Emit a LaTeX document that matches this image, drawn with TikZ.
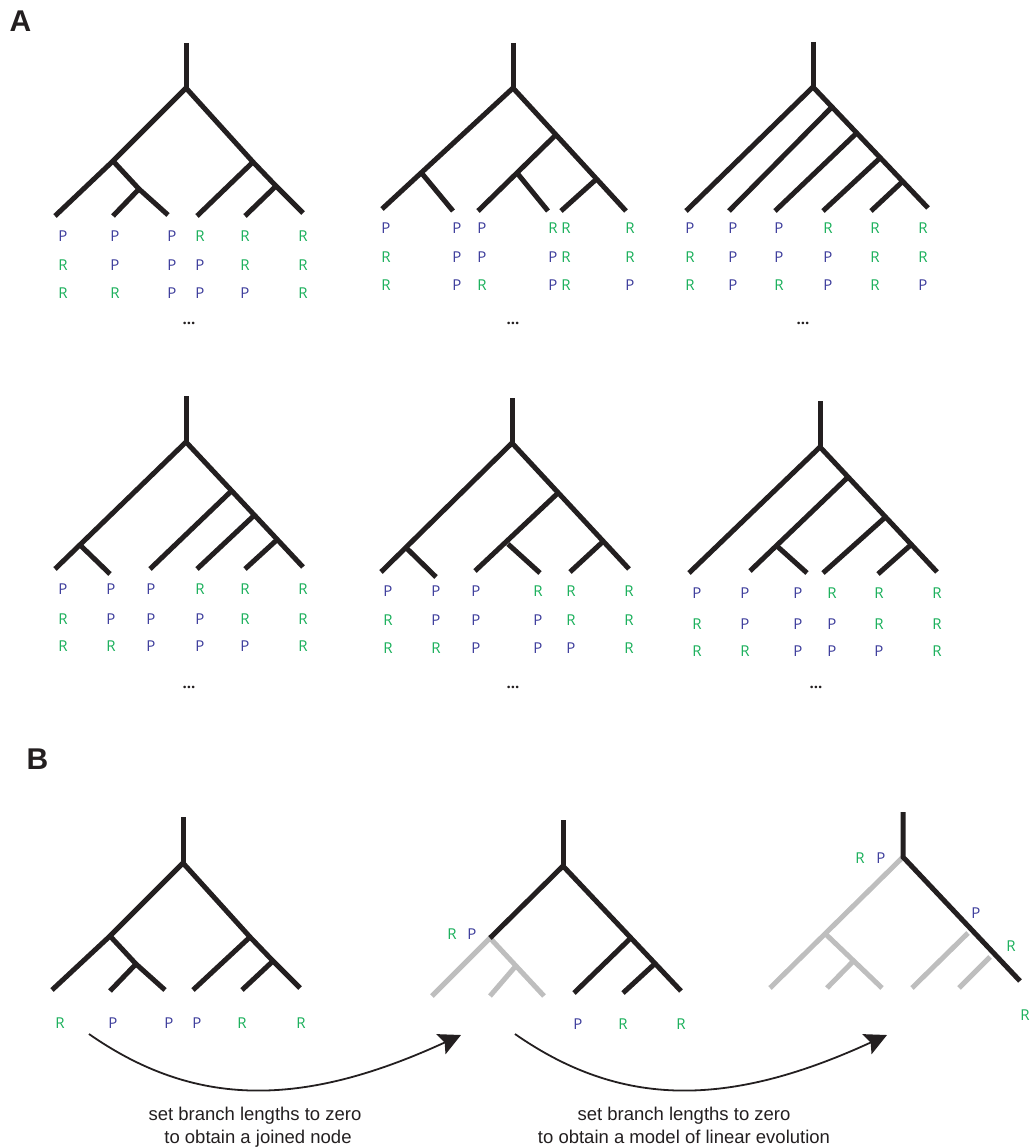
\documentclass[tikz,border=0pt]{standalone}
\usepackage{fontspec}
\setmainfont{Open Sans}
\newfontfamily\capfont{Liberation Sans}
\usetikzlibrary{arrows.meta,calc}
\definecolor{ink}{RGB}{35,31,32}
\definecolor{pblue}{RGB}{60,60,155}
\definecolor{rgreen}{RGB}{25,175,90}
\definecolor{lgray}{RGB}{190,190,190}
\newcommand\labcol[8]{%
  \node[lab,lab#6] (#1a) at (#2,#3) {#6};
  \node[lab,lab#7] (#1b) at (#2,#4) {#7};
  \node[lab,lab#8] (#1c) at (#2,#5) {#8};}
\tikzset{
  br/.style={line width=5pt, draw=ink, line join=miter},
  gbr/.style={line width=5pt, draw=lgray, line join=miter},
  lab/.style={inner sep=0pt, font=\fontsize{15}{17}\selectfont},
  labP/.style={text=pblue},
  labR/.style={text=rgreen},
  dots/.style={inner sep=0pt, text=ink, font=\fontsize{15}{16}\selectfont\bfseries},
  panel/.style={inner sep=0pt, text=ink, font=\capfont\fontsize{30}{32}\selectfont\bfseries},
  caption/.style={inner sep=0pt, anchor=base, text=ink, font=\capfont\fontsize{18.5}{22}\selectfont},
  arr/.style={line width=1.8pt, draw=ink, -{Stealth[length=22pt, width=22pt, inset=4pt]}}
}
\begin{document}
\begin{tikzpicture}[x=1pt,y=-1pt]
\useasboundingbox (0,0) rectangle (1030,1148);
% panel labels
\node[panel] (pA) at (20.5,21.5) {A};
\node[panel] (pB) at (37.5,759.5) {B};

% ---------- Tree 1 ----------
\coordinate (t1top) at (186,43);
\coordinate (t1r) at (186,88);
\coordinate (t1a) at (113,161);
\coordinate (t1l1) at (55,216);
\coordinate (t1b) at (139,189);
\coordinate (t1l2) at (113,216);
\coordinate (t1l3) at (168,215);
\coordinate (t1c) at (253,162);
\coordinate (t1l4) at (197,216);
\coordinate (t1d) at (276,186);
\coordinate (t1l5) at (245,216);
\coordinate (t1l6) at (303,213);
\draw[br] (t1top) -- (t1r);
\draw[br] (t1l1) -- (t1a) -- (t1r) -- (t1c) -- (t1d) -- (t1l6);
\draw[br] (t1a) -- (t1b) -- (t1l3);
\draw[br] (t1b) -- (t1l2);
\draw[br] (t1c) -- (t1l4);
\draw[br] (t1d) -- (t1l5);
\labcol{t1c1}{63}{236}{265}{293}{P}{R}{R}
\labcol{t1c2}{115}{236}{265}{293}{P}{P}{R}
\labcol{t1c3}{172}{236}{265}{293}{P}{P}{P}
\labcol{t1c4}{200}{236}{265}{293}{R}{P}{P}
\labcol{t1c5}{245}{236}{265}{293}{R}{R}{P}
\labcol{t1c6}{303}{236}{265}{293}{R}{R}{R}
\node[dots] (t1dots) at (189,323) {...};

% ---------- Tree 2 ----------
\coordinate (t2top) at (513,43);
\coordinate (t2r) at (513,88);
\coordinate (t2l1) at (382,209);
\coordinate (t2a) at ($(t2r)!0.70!(t2l1)$);
\coordinate (t2l2) at (453,211);
\coordinate (t2l6) at (626,211);
\coordinate (t2c) at ($(t2r)!0.38!(t2l6)$);
\coordinate (t2l3) at (478,211);
\coordinate (t2e) at ($(t2c)!0.5!(t2l3)$);
\coordinate (t2l4) at (548,211);
\coordinate (t2f) at ($(t2c)!0.58!(t2l6)$);
\coordinate (t2l5) at (561,211);
\draw[br] (t2top) -- (t2r);
\draw[br] (t2l1) -- (t2a) -- (t2r) -- (t2c) -- (t2f) -- (t2l6);
\draw[br] (t2a) -- (t2l2);
\draw[br] (t2c) -- (t2l3);
\draw[br] (t2e) -- (t2l4);
\draw[br] (t2f) -- (t2l5);
\labcol{t2c1}{386}{228}{257}{285}{P}{R}{R}
\labcol{t2c2}{457}{228}{257}{285}{P}{P}{P}
\labcol{t2c3}{482}{228}{257}{285}{P}{P}{R}
\labcol{t2c4}{553}{228}{257}{285}{R}{P}{P}
\labcol{t2c5}{566}{228}{257}{285}{R}{R}{R}
\labcol{t2c6}{630}{228}{257}{285}{R}{R}{P}
\node[dots] (t2dots) at (513,323) {...};

% ---------- Tree 3 ----------
\coordinate (t3top) at (813,42);
\coordinate (t3r) at (813,87);
\coordinate (t3l1) at (686,211);
\coordinate (t3l6) at (928,208);
\coordinate (t3n2) at ($(t3r)!0.165!(t3l6)$);
\coordinate (t3n3) at ($(t3r)!0.38!(t3l6)$);
\coordinate (t3n4) at ($(t3r)!0.585!(t3l6)$);
\coordinate (t3n5) at ($(t3r)!0.78!(t3l6)$);
\coordinate (t3l2) at (729,211);
\coordinate (t3l3) at (775,211);
\coordinate (t3l4) at (823,211);
\coordinate (t3l5) at (871,211);
\draw[br] (t3top) -- (t3r);
\draw[br] (t3l1) -- (t3r) -- (t3l6);
\draw[br] (t3n2) -- (t3l2);
\draw[br] (t3n3) -- (t3l3);
\draw[br] (t3n4) -- (t3l4);
\draw[br] (t3n5) -- (t3l5);
\labcol{t3c1}{690}{228}{257}{285}{P}{R}{R}
\labcol{t3c2}{733}{228}{257}{285}{P}{P}{P}
\labcol{t3c3}{779}{228}{257}{285}{P}{P}{R}
\labcol{t3c4}{828}{228}{257}{285}{R}{P}{P}
\labcol{t3c5}{875}{228}{257}{285}{R}{R}{R}
\labcol{t3c6}{923}{228}{257}{285}{R}{R}{P}
\node[dots] (t3dots) at (803,323) {...};

% ---------- Tree 4 ----------
\coordinate (t4top) at (186,396);
\coordinate (t4r) at (186,442);
\coordinate (t4l1) at (55,569);
\coordinate (t4a) at ($(t4r)!0.81!(t4l1)$);
\coordinate (t4l2) at (110,574);
\coordinate (t4l6) at (303,567);
\coordinate (t4n2) at ($(t4r)!0.39!(t4l6)$);
\coordinate (t4n3) at ($(t4r)!0.585!(t4l6)$);
\coordinate (t4n4) at ($(t4r)!0.78!(t4l6)$);
\coordinate (t4l3) at (150,569);
\coordinate (t4l4) at (197,569);
\coordinate (t4l5) at (245,569);
\draw[br] (t4top) -- (t4r);
\draw[br] (t4l1) -- (t4a) -- (t4r) -- (t4l6);
\draw[br] (t4a) -- (t4l2);
\draw[br] (t4n2) -- (t4l3);
\draw[br] (t4n3) -- (t4l4);
\draw[br] (t4n4) -- (t4l5);
\labcol{t4c1}{63}{589}{619}{646}{P}{R}{R}
\labcol{t4c2}{111}{589}{619}{646}{P}{P}{R}
\labcol{t4c3}{151}{589}{619}{646}{P}{P}{P}
\labcol{t4c4}{200}{589}{619}{646}{R}{P}{P}
\labcol{t4c5}{245}{589}{619}{646}{R}{R}{P}
\labcol{t4c6}{303}{589}{619}{646}{R}{R}{R}
\node[dots] (t4dots) at (189,687) {...};

% ---------- Tree 5 ----------
\coordinate (t5top) at (512,398);
\coordinate (t5r) at (512,443);
\coordinate (t5l1) at (381,572);
\coordinate (t5a) at ($(t5r)!0.81!(t5l1)$);
\coordinate (t5l2) at (436,577);
\coordinate (t5l6) at (629,569);
\coordinate (t5c) at ($(t5r)!0.395!(t5l6)$);
\coordinate (t5l3) at (475,571);
\coordinate (t5s) at (508,544);
\coordinate (t5l4) at (540,573);
\coordinate (t5f) at ($(t5r)!0.78!(t5l6)$);
\coordinate (t5l5) at (570,572);
\draw[br] (t5top) -- (t5r);
\draw[br] (t5l1) -- (t5a) -- (t5r) -- (t5c) -- (t5f) -- (t5l6);
\draw[br] (t5a) -- (t5l2);
\draw[br] (t5c) -- (t5l3);
\draw[br] (t5s) -- (t5l4);
\draw[br] (t5f) -- (t5l5);
\labcol{t5c1}{388}{591}{620}{648}{P}{R}{R}
\labcol{t5c2}{436}{591}{620}{648}{P}{P}{R}
\labcol{t5c3}{476}{591}{620}{648}{P}{P}{P}
\labcol{t5c4}{538}{591}{620}{648}{R}{P}{P}
\labcol{t5c5}{571}{591}{620}{648}{R}{R}{P}
\labcol{t5c6}{629}{591}{620}{648}{R}{R}{R}
\node[dots] (t5dots) at (513,687) {...};

% ---------- Tree 6 ----------
\coordinate (t6top) at (820,401);
\coordinate (t6r) at (820,447);
\coordinate (t6l1) at (689,573);
\coordinate (t6l6) at (937,572);
\coordinate (t6n2) at ($(t6r)!0.24!(t6l6)$);
\coordinate (t6l2) at (750,571);
\coordinate (t6m) at ($(t6n2)!0.73!(t6l2)$);
\coordinate (t6l3) at (807,573);
\coordinate (t6n3) at ($(t6r)!0.56!(t6l6)$);
\coordinate (t6l4) at (823,573);
\coordinate (t6n4) at ($(t6r)!0.78!(t6l6)$);
\coordinate (t6l5) at (878,574);
\draw[br] (t6top) -- (t6r);
\draw[br] (t6l1) -- (t6r) -- (t6l6);
\draw[br] (t6n2) -- (t6l2);
\draw[br] (t6m) -- (t6l3);
\draw[br] (t6n3) -- (t6l4);
\draw[br] (t6n4) -- (t6l5);
\labcol{t6c1}{697}{593}{624}{651}{P}{R}{R}
\labcol{t6c2}{745}{593}{624}{651}{P}{P}{R}
\labcol{t6c3}{798}{593}{624}{651}{P}{P}{P}
\labcol{t6c4}{832}{593}{624}{651}{R}{P}{P}
\labcol{t6c5}{879}{593}{624}{651}{R}{R}{P}
\labcol{t6c6}{937}{593}{624}{651}{R}{R}{R}
\node[dots] (t6dots) at (816,687) {...};

% ---------- Panel B, tree 1 ----------
\coordinate (b1top) at (183,817);
\coordinate (b1r) at (183,863);
\coordinate (b1a) at (110,936);
\coordinate (b1l1) at (52,990);
\coordinate (b1b) at (136,964);
\coordinate (b1l2) at (110,991);
\coordinate (b1l3) at (165,990);
\coordinate (b1c) at (250,937);
\coordinate (b1l4) at (193,990);
\coordinate (b1d) at (273,961);
\coordinate (b1l5) at (242,990);
\coordinate (b1l6) at (300,988);
\draw[br] (b1top) -- (b1r);
\draw[br] (b1l1) -- (b1a) -- (b1r) -- (b1c) -- (b1d) -- (b1l6);
\draw[br] (b1a) -- (b1b) -- (b1l3);
\draw[br] (b1b) -- (b1l2);
\draw[br] (b1c) -- (b1l4);
\draw[br] (b1d) -- (b1l5);
\node[lab,labR] (b1x1) at (60,1023) {R};
\node[lab,labP] (b1x2) at (113,1023) {P};
\node[lab,labP] (b1x3) at (169,1023) {P};
\node[lab,labP] (b1x4) at (197,1023) {P};
\node[lab,labR] (b1x5) at (242,1023) {R};
\node[lab,labR] (b1x6) at (301,1023) {R};

% ---------- Panel B, tree 2 ----------
\coordinate (b2top) at (563,820);
\coordinate (b2r) at (563,866);
\coordinate (b2j) at (490,938);
\coordinate (b2l1) at (432,996);
\coordinate (b2l3) at (544,996);
\coordinate (b2g) at ($(b2j)!0.48!(b2l3)$);
\coordinate (b2l2) at (490,996);
\coordinate (b2l6) at (681,991);
\coordinate (b2c) at ($(b2r)!0.575!(b2l6)$);
\coordinate (b2d) at ($(b2r)!0.78!(b2l6)$);
\coordinate (b2l4) at (574,993);
\coordinate (b2l5) at (623,993);
\draw[gbr] (b2l1) -- (b2j) -- (b2l3);
\draw[gbr] (b2g) -- (b2l2);
\draw[br] (b2top) -- (b2r);
\draw[br] (b2j) -- (b2r) -- (b2c) -- (b2d) -- (b2l6);
\draw[br] (b2c) -- (b2l4);
\draw[br] (b2d) -- (b2l5);
\node[lab,labR] (b2y1) at (452,934) {R};
\node[lab,labP] (b2y2) at (472,934) {P};
\node[lab,labP] (b2x4) at (578,1024) {P};
\node[lab,labR] (b2x5) at (623,1024) {R};
\node[lab,labR] (b2x6) at (681,1024) {R};

% ---------- Panel B, tree 3 ----------
\coordinate (b3top) at (903,812);
\coordinate (b3r) at (903,857);
\coordinate (b3l6) at (1020,981);
\coordinate (b3l1) at (770,988);
\coordinate (b3gn) at ($(b3r)!0.585!(b3l1)$);
\coordinate (b3l3) at (882,988);
\coordinate (b3gm) at ($(b3gn)!0.5!(b3l3)$);
\coordinate (b3l2) at (827,988);
\coordinate (b3s4) at (968,933);
\coordinate (b3l4) at (912,988);
\coordinate (b3s5) at (990,957);
\coordinate (b3l5) at (959,988);
\draw[gbr] (b3r) -- (b3l1);
\draw[gbr] (b3gn) -- (b3l3);
\draw[gbr] (b3gm) -- (b3l2);
\draw[gbr] (b3s4) -- (b3l4);
\draw[gbr] (b3s5) -- (b3l5);
\draw[br] (b3top) -- (b3r) -- (b3l6);
\node[lab,labR] (b3y1) at (860,858) {R};
\node[lab,labP] (b3y2) at (881,858) {P};
\node[lab,labP] (b3y3) at (976,913) {P};
\node[lab,labR] (b3y4) at (1011,946) {R};
\node[lab,labR] (b3y5) at (1025,1015) {R};

% ---------- Arrows ----------
\coordinate (a1s) at (89,1034);
\coordinate (a1e) at (461,1035);
\coordinate (a2s) at (515,1034);
\coordinate (a2e) at (887,1035);
\draw[arr] (a1s) .. controls (195,1108) and (302,1108) .. (a1e);
\draw[arr] (a2s) .. controls (621,1108) and (728,1108) .. (a2e);
\node[caption] (cap1a) at (255,1120) {set branch lengths to zero};
\node[caption] (cap1b) at (258,1143) {to obtain a joined node};
\node[caption] (cap2a) at (684,1120) {set branch lengths to zero};
\node[caption] (cap2b) at (684,1143) {to obtain a model of linear evolution};
\end{tikzpicture}
\end{document}
